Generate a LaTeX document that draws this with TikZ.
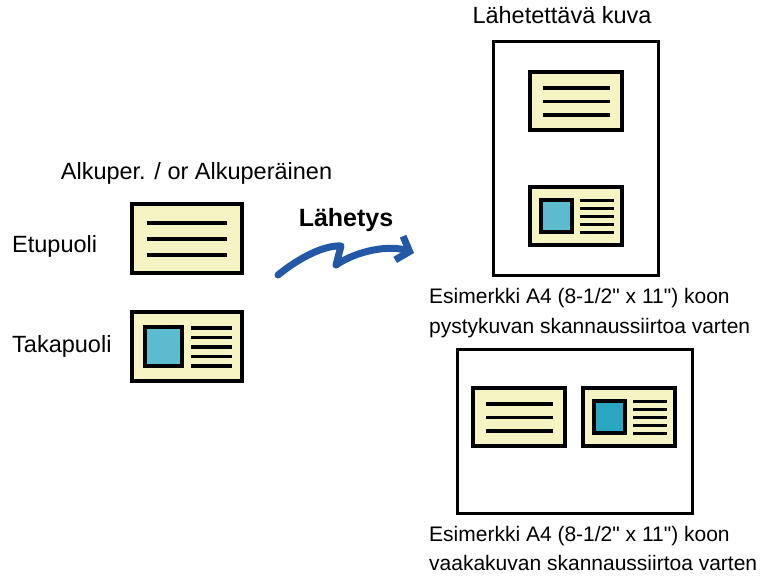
\documentclass[tikz,border=0pt]{standalone}
\usepackage{fontspec}
\setmainfont{Liberation Sans}[Ligatures=TeXOff]
\usetikzlibrary{arrows.meta}
\definecolor{paper}{HTML}{F6F4C2}
\definecolor{photo}{HTML}{5BBBCF}
\definecolor{photodark}{HTML}{2AA6C1}
\definecolor{sendblue}{HTML}{2358A6}
\tikzset{
  card/.style={draw=black, fill=paper, line width=4pt},
  page/.style={draw=black, line width=3pt},
  textline/.style={line width=3.5pt},
  label/.style={inner sep=0pt, font=\fontsize{23.5}{28}\selectfont},
  caption/.style={inner sep=0pt, anchor=base west, font=\fontsize{21}{26}\selectfont},
  % one card with three text lines, origin at its top left corner
  pics/frontcard/.style={code={
    \draw[card] (0,0) rectangle (110,69);
    \foreach \y in {19,35,51}
      \draw[textline] (15,\y) -- (95,\y);
  }},
  % card with a photo and five text lines
  pics/backcard/.style={code={
    \draw[card] (0,0) rectangle (110,69);
    \draw[line width=4pt, fill=#1] (13,15) rectangle (50,54);
    \foreach \y in {16,25.5,35,44.5,54}
      \draw[textline] (59,\y) -- (100,\y);
  }},
}

\begin{document}
\begin{tikzpicture}[x=1pt, y=-1pt]
    \useasboundingbox (0,0) rectangle (764,578);
    % Original
    \node[label, anchor=base] (original) at (196.5,179) {Alkuper. / or Alkuperäinen};
    \node[label, anchor=base west] (front) at (12,252) {Etupuoli};
    \node[label, anchor=base west] (back) at (12,352) {Takapuoli};
    \pic at (132,204) {frontcard};
    \pic at (132,312) {backcard=photo};
    % Send Arrow
    \node[label, font=\bfseries\fontsize{25}{30}\selectfont, anchor=base] (send) at (346,226) {Lähetys};
    \coordinate (send start) at (278,275);
    \coordinate (send end) at (414,253);
    \draw[sendblue, line width=7pt, line cap=round, line join=round,
          -{Straight Barb[length=11pt, width=25pt]}]
        (send start) .. controls (300,257) and (325,245) .. (341,246)
        -- (336,265) .. controls (358,250) and (390,245) .. (send end);
    % Sent Image, Portrait
    \node[label, anchor=base] (sent) at (562,24) {Lähetettävä kuva};
    \draw[page] (493,42) rectangle (658,275);
    \pic[scale=0.84] at (530,72) {frontcard};
    \pic[scale=0.84] at (530,187) {backcard=photo};
    \node[caption] (portrait a) at (429,303) {Esimerkki A4 (8-1/2" x 11") koon};
    \node[caption] (portrait b) at (429,333) {pystykuvan skannaussiirtoa varten};
    % Sent Image, Landscape
    \draw[page] (457,349) rectangle (692,513);
    \pic[scale=0.84] at (473,388) {frontcard};
    \pic[scale=0.84] at (583,388) {backcard=photodark};
    \node[caption] (landscape a) at (429,541) {Esimerkki A4 (8-1/2" x 11") koon};
    \node[caption] (landscape b) at (429,570) {vaakakuvan skannaussiirtoa varten};
\end{tikzpicture}
\end{document}
